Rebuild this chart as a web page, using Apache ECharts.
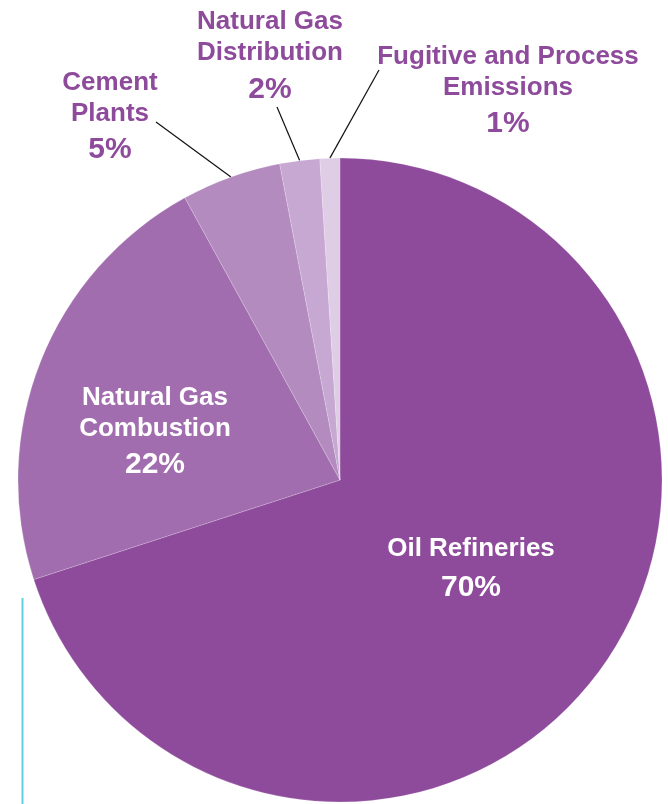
<!DOCTYPE html>
<html>
<head>
<meta charset="utf-8">
<title>Emissions by Source</title>
<script src="https://cdn.jsdelivr.net/npm/echarts@6/dist/echarts.min.js"></script>
<style>
  html, body { margin: 0; padding: 0; background: #ffffff; }
  #chart { width: 668px; height: 804px; }
</style>
</head>
<body>
<div id="chart"></div>
<script>
// Emission sources, in drawing order (clockwise from 12 o'clock)
var categories = [
  'Oil Refineries',
  'Natural Gas Combustion',
  'Cement Plants',
  'Natural Gas Distribution',
  'Fugitive and Process Emissions'
];
// Label text split into lines for each source
var labelLines = [
  ['Oil Refineries'],
  ['Natural Gas', 'Combustion'],
  ['Cement', 'Plants'],
  ['Natural Gas', 'Distribution'],
  ['Fugitive and Process', 'Emissions']
];
// Share of emissions, percent
var shares = [70, 22, 5, 2, 1];

var sliceColors = ['#8e4a9b', '#a16dae', '#b38bbf', '#c6a8d2', '#dfcde6'];
var labelColors = ['#ffffff', '#ffffff', '#8e4a9b', '#8e4a9b', '#8e4a9b'];

// Pie geometry
var CX = 340, CY = 480, R = 322;

// Label block centres, percent line height and leader-line end points
// (lineEnd null = label sits inside its slice)
var labelPlacement = [
  { x: 471, y: 572, pctLine: 46, lineEnd: null },
  { x: 155, y: 434, pctLine: 42, lineEnd: null },
  { x: 110, y: 119, pctLine: 42, lineEnd: [156, 122] },
  { x: 270, y: 58.5, pctLine: 42, lineEnd: [277, 107] },
  { x: 508, y: 93,  pctLine: 42, lineEnd: [379, 70] }
];

var FONT = '"Liberation Sans", Arial, Helvetica, sans-serif';

// Outer-edge midpoint of slice i, measured clockwise from 12 o'clock
function sliceEdgeMid(i) {
  var total = shares.reduce(function (a, b) { return a + b; }, 0);
  var before = 0;
  for (var k = 0; k < i; k++) before += shares[k];
  var ang = (before + shares[i] / 2) / total * Math.PI * 2;
  return [CX + R * Math.sin(ang), CY - R * Math.cos(ang)];
}

var seriesData = categories.map(function (name, i) {
  var text = labelLines[i].map(function (l) { return '{n|' + l + '}'; }).join('\n') +
             '\n{p|' + shares[i] + '%}';
  return {
    name: name,
    value: shares[i],
    itemStyle: { color: sliceColors[i] },
    label: {
      formatter: text,
      rich: {
        n: { fontFamily: FONT, fontWeight: 'bold', fontSize: 26, lineHeight: 31, color: labelColors[i], align: 'center' },
        p: { fontFamily: FONT, fontWeight: 'bold', fontSize: 30, lineHeight: labelPlacement[i].pctLine, color: labelColors[i], align: 'center' }
      }
    },
    labelLine: {
      show: labelPlacement[i].lineEnd !== null,
      lineStyle: { color: '#111111', width: 1.2 }
    }
  };
});

var chart = echarts.init(document.getElementById('chart'), null, { renderer: 'canvas' });

chart.setOption({
  backgroundColor: '#ffffff',
  animation: false,
  graphic: [
    {
      type: 'line',
      shape: { x1: 22.5, y1: 598, x2: 22.5, y2: 804 },
      style: { stroke: '#62cfe6', lineWidth: 2 },
      z: 10
    }
  ],
  series: [
    {
      type: 'pie',
      center: [CX, CY],
      radius: [0, R],
      startAngle: 90,
      clockwise: true,
      avoidLabelOverlap: false,
      itemStyle: { borderColor: 'rgba(255,255,255,0.3)', borderWidth: 0.6 },
      label: { show: true, position: 'outside' },
      labelLine: { show: true, length: 10, length2: 10 },
      emphasis: { disabled: true },
      labelLayout: function (params) {
        var i = params.dataIndex;
        var p = labelPlacement[i];
        var out = { x: p.x, y: p.y, align: 'center', verticalAlign: 'middle' };
        if (p.lineEnd) {
          out.labelLinePoints = [sliceEdgeMid(i), p.lineEnd, p.lineEnd];
        }
        return out;
      },
      data: seriesData
    }
  ]
});
</script>
</body>
</html>
